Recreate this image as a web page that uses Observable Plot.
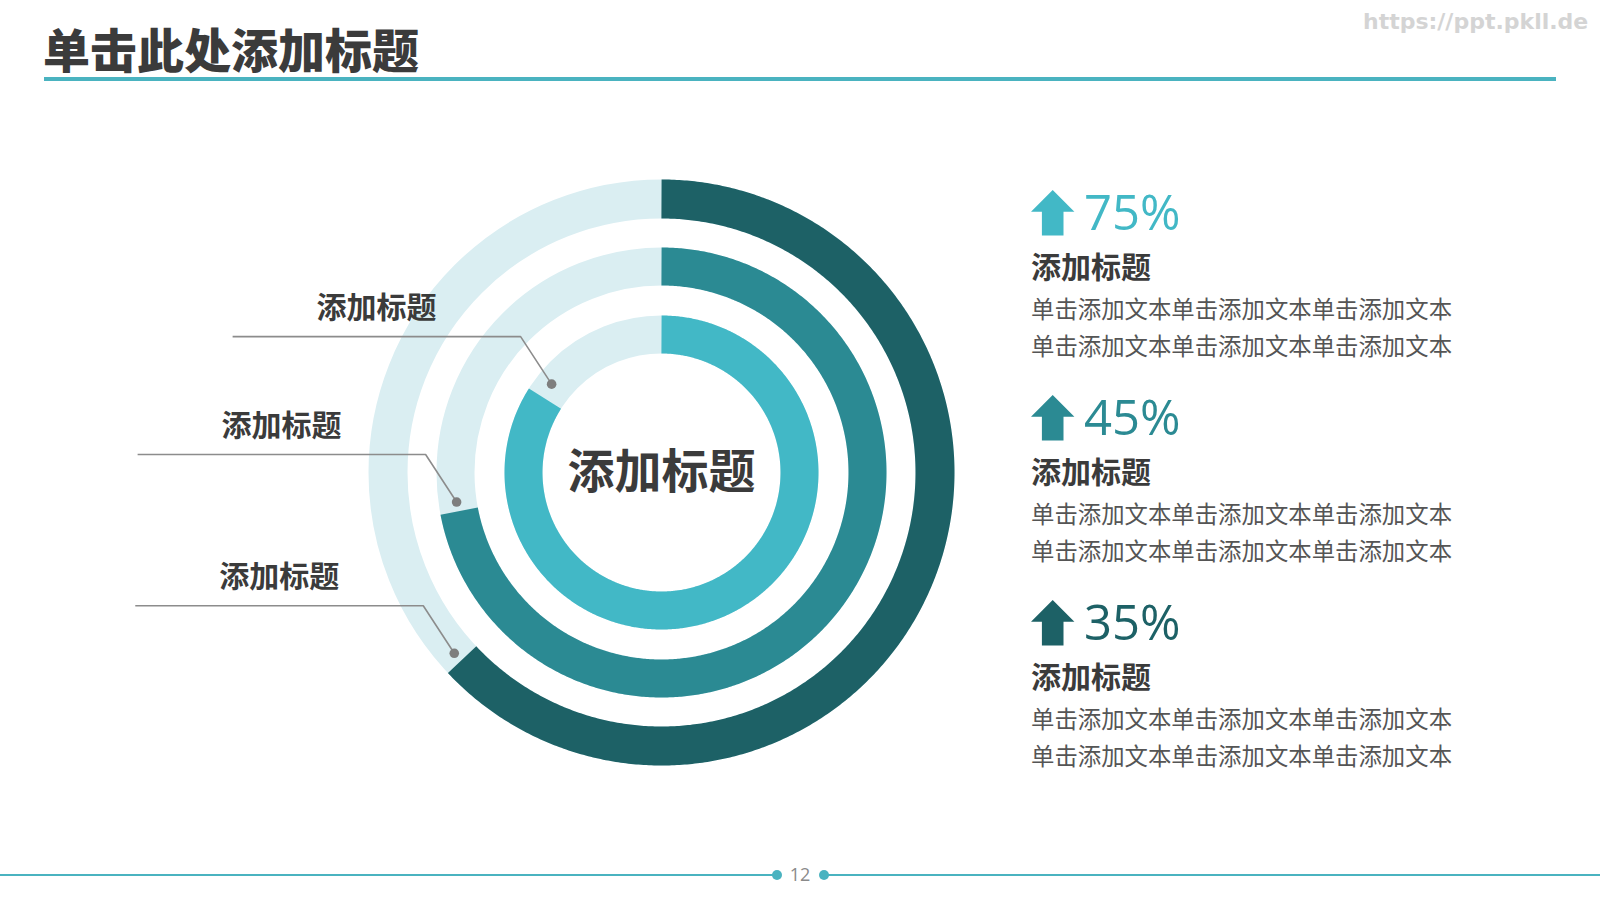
<!DOCTYPE html>
<html>
<head>
<meta charset="utf-8">
<script src="https://cdn.jsdelivr.net/npm/d3@7"></script>
<script src="https://cdn.jsdelivr.net/npm/@observablehq/plot@0.6"></script>
<style>
  html, body { margin: 0; padding: 0; background: #ffffff; }
  #page { position: relative; width: 1600px; height: 900px; overflow: hidden; font-family: "Noto Sans CJK SC", sans-serif; }
  #chart { position: absolute; left: 0; top: 0; }
  .abs { position: absolute; white-space: nowrap; }
</style>
</head>
<body>
<div id="page"><div id="chart"></div></div>
<script>
// ---------------- data ----------------
const rings = ["内环", "中环", "外环"];
const ringShares = [0.84, 0.72, 0.63];           // filled share of each ring (read from arc ends)
const ringColors = ["#42B8C6", "#2B8A93", "#1D6166"];
const trackColor = "#DAEEF2";
const calloutAngles = [308.8, 261.8, 228.9];      // degrees clockwise from top, where leader dots sit
const calloutLabels = ["添加标题", "添加标题", "添加标题"];
const centerLabel = "添加标题";

const statPercents = ["75%", "45%", "35%"];
const statColors = ["#42B8C6", "#2B8A93", "#1D6166"];
const statTitles = ["添加标题", "添加标题", "添加标题"];
const statLines = ["单击添加文本单击添加文本单击添加文本", "单击添加文本单击添加文本单击添加文本"];

const pageTitle = "单击此处添加标题";
const watermark = "https://ppt.pkll.de";
const pageNumber = "12";

// ---------------- layout ----------------
const W = 1600, H = 900, CX = 661, CY = 472;
const ringMid = [138, 206, 273.5];
const ringWidth = [38, 38, 39];
const calloutR = [141, 207, 275];
const rad = d => d * Math.PI / 180;

// arc polylines generated from the shares
const arcPts = [];
rings.forEach((ring, i) => {
  const end = ringShares[i] * 360;
  for (let a = 0; a <= end + 1e-9; a += 0.5) {
    arcPts.push({ring, x: ringMid[i] * Math.sin(rad(a)), y: ringMid[i] * Math.cos(rad(a))});
  }
  arcPts.push({ring, x: ringMid[i] * Math.sin(rad(end)), y: ringMid[i] * Math.cos(rad(end))});
});
const tracks = rings.map((ring, i) => ({ring, r: ringMid[i], w: ringWidth[i]}));

// callouts
const callouts = rings.map((ring, i) => {
  const a = rad(calloutAngles[i]);
  const dx = calloutR[i] * Math.sin(a), dy = calloutR[i] * Math.cos(a);
  const ex = dx - 31, ey = dy + 47.5;
  const sx = ex - 288;
  return {ring, label: calloutLabels[i], dx, dy, ex, ey, sx, lx: (sx + ex) / 2, ly: ey + 28.5};
});
const leaderPts = callouts.flatMap(c => [
  {ring: c.ring, x: c.sx, y: c.ey},
  {ring: c.ring, x: c.ex, y: c.ey},
  {ring: c.ring, x: c.dx, y: c.dy}
]);

const chart = Plot.plot({
  width: W, height: H, margin: 0,
  x: {domain: [-CX, W - CX], axis: null},
  y: {domain: [-(H - CY), CY], axis: null},
  color: {domain: rings, range: ringColors},
  style: {fontFamily: "'Noto Sans CJK SC', sans-serif", background: "transparent", overflow: "visible"},
  marks: [
    ...tracks.map(t => Plot.dot([t], {x: () => 0, y: () => 0, r: t.r, fill: "none", stroke: trackColor, strokeWidth: t.w})),
    ...rings.map((ring, i) => Plot.line(arcPts.filter(d => d.ring === ring), {
      x: "x", y: "y", stroke: "ring", strokeWidth: ringWidth[i], strokeLinecap: "butt", strokeLinejoin: "round"
    })),
    Plot.line(leaderPts, {x: "x", y: "y", z: "ring", stroke: "#8C8C8C", strokeWidth: 1.6, strokeLinecap: "butt"}),
    Plot.dot(callouts, {x: "dx", y: "dy", r: 4.8, fill: "#7E7E7E"}),
    Plot.text(callouts, {x: "lx", y: "ly", text: "label", fontSize: 30, fontWeight: "bold", fill: "#3B3B3B"}),
    Plot.text([centerLabel], {x: () => 0, y: () => 0, text: d => d, fontSize: 47, fontWeight: "bold", fill: "#3B3B3B"})
  ]
});
document.getElementById("chart").appendChild(chart);

// ---------------- HTML annotations ----------------
const page = document.getElementById("page");
function add(html, css) {
  const el = document.createElement("div");
  el.className = "abs";
  el.innerHTML = html;
  Object.assign(el.style, css);
  page.appendChild(el);
  return el;
}
// title + rule
add(pageTitle, {left: "43px", top: "24px", fontSize: "47px", lineHeight: "47px", fontWeight: "900", color: "#3B3B3B"});
add("", {left: "44px", top: "76.5px", width: "1512px", height: "4px", background: "#4AB3C0"});
// watermark
add(watermark, {left: "1363px", top: "11px", fontFamily: "'DejaVu Sans', sans-serif", fontWeight: "700", fontSize: "22px", lineHeight: "22px", color: "#D4D4D4"});

// right stat blocks
statPercents.forEach((p, k) => {
  const top = 190 + 205 * k;
  add(`<svg width="44" height="46" viewBox="0 0 44 46"><polygon points="21.7,0 43.4,21.7 32.5,21.7 32.5,45.5 10.9,45.5 10.9,21.7 0,21.7" fill="${statColors[k]}"/></svg>`,
      {left: "1031px", top: top + "px", lineHeight: "0"});
  add(p, {left: "1084px", top: (top - 3.5) + "px", fontFamily: "'Open Sans', sans-serif", fontSize: "49px", lineHeight: "49px", color: statColors[k]});
  add(statTitles[k], {left: "1031px", top: (top + 76 - 15 - 1.2) + "px", fontSize: "30px", lineHeight: "30px", fontWeight: "700", color: "#3B3B3B"});
  add(statLines.join("<br>"), {left: "1031px", top: (top + 120 - 18 - 2) + "px", fontSize: "23.4px", lineHeight: "36.5px", color: "#555555"});
});

// footer
add("", {left: "0px", top: "874px", width: "777px", height: "2px", background: "#4AB3C0"});
add("", {left: "771.5px", top: "870px", width: "10px", height: "10px", borderRadius: "50%", background: "#4AB3C0"});
add(pageNumber, {left: "786px", top: "864px", width: "28px", textAlign: "center", fontFamily: "'Open Sans', sans-serif", fontSize: "18px", lineHeight: "20px", color: "#8A8A8A"});
add("", {left: "819px", top: "870px", width: "10px", height: "10px", borderRadius: "50%", background: "#4AB3C0"});
add("", {left: "824px", top: "874px", width: "776px", height: "2px", background: "#4AB3C0"});
</script>
</body>
</html>
